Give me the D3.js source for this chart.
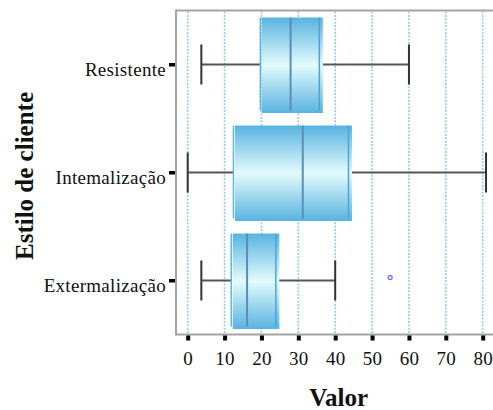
<!DOCTYPE html>
<html>
<head>
<meta charset="utf-8">
<script src="https://cdn.jsdelivr.net/npm/d3@7"></script>
<style>
  html, body { margin: 0; padding: 0; background: #fff; }
  svg { display: block; }
  text { font-family: "Liberation Serif", "Times New Roman", serif; fill: #111; }
</style>
</head>
<body>
<svg id="chart" width="493" height="410"></svg>
<script>
// Client styles and their box-plot statistics
const categories = ["Resistente", "Intemalização", "Extermalização"];
const whiskerLow  = [3.7, 0, 3.7];
const quartile1   = [19.7, 12.4, 11.8];
const medians     = [27.9, 31.2, 16.1];
const quartile3   = [35.7, 43.6, 23.9];
const whiskerHigh = [60, 80.9, 40];
const outliers    = [{ cat: "Extermalização", value: 54.9 }];
const xTicks = [0, 10, 20, 30, 40, 50, 60, 70, 80];

const svg = d3.select("#chart");
const W = 493;
const frame = { left: 176, top: 10.5, bottom: 334.5 };

const x = d3.scaleLinear().domain([0, 80]).range([187.7, 482.7]);
const y = d3.scaleBand().domain(categories).range([frame.top, frame.bottom]).padding(0);

const boxes = categories.map((c, i) => ({
  cat: c, lo: whiskerLow[i], q1: quartile1[i], med: medians[i], q3: quartile3[i], hi: whiskerHigh[i]
}));

// Vertical gradient for the boxes
const defs = svg.append("defs");
const grad = defs.append("linearGradient").attr("id", "boxFill")
  .attr("x1", 0).attr("y1", 0).attr("x2", 0).attr("y2", 1);
grad.append("stop").attr("offset", "0%").attr("stop-color", "#58b3e0");
grad.append("stop").attr("offset", "50%").attr("stop-color", "#e2fbfb");
grad.append("stop").attr("offset", "100%").attr("stop-color", "#58b3e0");

// Dotted vertical gridlines
svg.append("g").selectAll("line").data(xTicks).join("line")
  .attr("x1", d => x(d)).attr("x2", d => x(d))
  .attr("y1", frame.top + 1).attr("y2", frame.bottom)
  .attr("stroke", "#8fcdee").attr("stroke-width", 1.6)
  .attr("stroke-dasharray", "2,1.4");

// Boxes
const half = y.bandwidth() * 0.435;
const g = svg.append("g");
boxes.forEach(b => {
  const cy = y(b.cat) + y.bandwidth() / 2;
  // whiskers
  g.append("line").attr("x1", x(b.lo)).attr("x2", x(b.q1)).attr("y1", cy).attr("y2", cy)
    .attr("stroke", "#555").attr("stroke-width", 2);
  g.append("line").attr("x1", x(b.q3)).attr("x2", x(b.hi)).attr("y1", cy).attr("y2", cy)
    .attr("stroke", "#555").attr("stroke-width", 2);
  [b.lo, b.hi].forEach(v => {
    g.append("line").attr("x1", x(v)).attr("x2", x(v)).attr("y1", cy - 20).attr("y2", cy + 20)
      .attr("stroke", "#333").attr("stroke-width", 2);
  });
  // box body
  g.append("rect")
    .attr("x", x(b.q1) + 1.5).attr("y", cy - half)
    .attr("width", x(b.q3) - x(b.q1) + 2)
    .attr("height", 2 * half + 1.5)
    .attr("fill", "url(#boxFill)");
  // quartile edges and median
  g.append("line").attr("x1", x(b.q1)).attr("x2", x(b.q1))
    .attr("y1", cy - half).attr("y2", cy + half - 1)
    .attr("stroke", "#5db6e3").attr("stroke-width", 1.5);
  g.append("line").attr("x1", x(b.q3)).attr("x2", x(b.q3))
    .attr("y1", cy - half).attr("y2", cy + half - 1)
    .attr("stroke", "#4aa5d6").attr("stroke-width", 1.5);
  g.append("line").attr("x1", x(b.med)).attr("x2", x(b.med))
    .attr("y1", cy - half).attr("y2", cy + half - 1)
    .attr("stroke", "#5b8db8").attr("stroke-width", 2);
});

// Outliers
svg.append("g").selectAll("circle").data(outliers).join("circle")
  .attr("cx", d => x(d.value))
  .attr("cy", d => y(d.cat) + y.bandwidth() / 2 - 3)
  .attr("r", 2)
  .attr("fill", "none").attr("stroke", "#7373ff").attr("stroke-width", 1.3);

// Plot frame (left, top, bottom)
svg.append("line").attr("x1", frame.left).attr("x2", frame.left)
  .attr("y1", frame.top - 1).attr("y2", frame.bottom + 1)
  .attr("stroke", "#a3a3a3").attr("stroke-width", 2);
svg.append("line").attr("x1", frame.left).attr("x2", W)
  .attr("y1", frame.top).attr("y2", frame.top)
  .attr("stroke", "#a3a3a3").attr("stroke-width", 2);
svg.append("line").attr("x1", frame.left).attr("x2", W)
  .attr("y1", frame.bottom).attr("y2", frame.bottom)
  .attr("stroke", "#a3a3a3").attr("stroke-width", 2);

// X axis ticks and labels
const xAxis = d3.axisBottom(x).tickValues(xTicks).tickSize(0).tickPadding(0);
const xg = svg.append("g").attr("transform", `translate(0,${frame.bottom + 1})`).call(xAxis);
xg.select(".domain").remove();
xg.selectAll(".tick").append("rect")
  .attr("x", -2).attr("y", 0).attr("width", 4).attr("height", 5).attr("fill", "#000");
xg.selectAll(".tick text")
  .attr("y", 29.5).attr("dy", null)
  .style("font-family", '"Liberation Serif", serif').style("font-size", "19px")
  .style("letter-spacing", "0.3px").attr("fill", "#111");

// Y axis ticks and labels
const yAxis = d3.axisLeft(y).tickSize(0).tickPadding(0);
const yg = svg.append("g").attr("transform", `translate(${frame.left - 1},0)`).call(yAxis);
yg.select(".domain").remove();
yg.selectAll(".tick").append("rect")
  .attr("x", -6).attr("y", -1.5).attr("width", 6).attr("height", 3.5).attr("fill", "#000");
yg.selectAll(".tick text")
  .attr("x", -9).attr("dy", null).attr("y", 11)
  .style("font-family", '"Liberation Serif", serif').style("font-size", "19px")
  .style("letter-spacing", "0.3px").attr("fill", "#111");

// Axis titles
svg.append("text")
  .attr("x", 338.7).attr("y", 406)
  .attr("text-anchor", "middle")
  .style("font-size", "25px").style("font-weight", "bold")
  .text("Valor");
svg.append("text")
  .attr("transform", "translate(32.5,176) rotate(-90)")
  .attr("text-anchor", "middle")
  .style("font-size", "25px").style("font-weight", "bold")
  .text("Estilo de cliente");
</script>
</body>
</html>
